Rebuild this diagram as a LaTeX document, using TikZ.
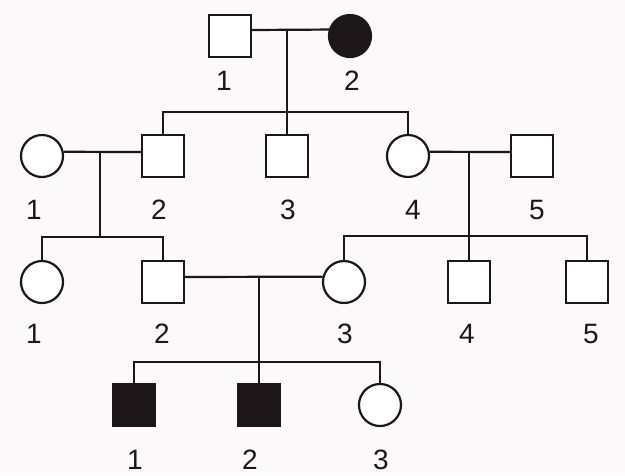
\documentclass[tikz,border=0pt]{standalone}
\usepackage{fontspec}
\setmainfont{Liberation Sans}
\definecolor{paper}{RGB}{252,249,250}
\definecolor{ink}{RGB}{28,22,24}
\begin{document}
\begin{tikzpicture}[x=1pt,y=-1pt,
  line width=2.2pt, draw=ink,
  male/.style={draw=ink,rectangle,minimum size=42pt,inner sep=0pt,fill=white},
  female/.style={draw=ink,circle,minimum size=42pt,inner sep=0pt,fill=white},
  affected/.style={fill=ink},
  num/.style={font=\fontsize{28}{28}\selectfont,text=ink,inner sep=0pt},
  link/.style={draw=ink,line width=2.2pt}]
\fill[paper] (0,0) rectangle (625,475);
\useasboundingbox (0,0) rectangle (625,475);

% generation I
\node[male] (I1) at (230,36) {};
\node[female,affected] (I2) at (350,36) {};
\coordinate (mI) at (287,30);
\draw[link] ([yshift=6pt]I1.east) -- (I2.163);

% generation II
\node[female] (II1) at (42,156) {};
\node[male] (II2) at (163,156) {};
\node[male] (II3) at (287,156) {};
\node[female] (II4) at (408,156) {};
\node[male] (II5) at (532,156) {};
\coordinate (mIIa) at (100,152);
\coordinate (mIIb) at (469,152);
\draw[link] (II1.11) -- ([yshift=4pt]II2.west);
\draw[link] (II4.11) -- ([yshift=4pt]II5.west);
\draw[link] (mI) -- (II3.north);
\draw[link] (II2.north) |- (287,112) -| (II4.north);

% generation III
\node[female] (III1) at (42,282) {};
\node[male] (III2) at (163,282) {};
\node[female] (III3) at (344,282) {};
\node[male] (III4) at (469,282) {};
\node[male] (III5) at (587,282) {};
\coordinate (mIII) at (259,277);
\draw[link] ([yshift=5pt]III2.east) -- (III3.166);
\draw[link] (mIIa) -- (100,237);
\draw[link] (III1.north) |- (100,237) -| (III2.north);
\draw[link] (mIIb) -- (III4.north);
\draw[link] (III3.north) |- (469,236) -| (III5.north);

% generation IV
\node[male,affected] (IV1) at (134,405) {};
\node[male,affected] (IV2) at (259,405) {};
\node[female] (IV3) at (380,405) {};
\draw[link] (mIII) -- (IV2.north);
\draw[link] (IV1.north) |- (259,362) -| (IV3.north);

% labels
\node[num] (lI1) at (224,81) {1};
\node[num] (lI2) at (352,81) {2};
\node[num] (lII1) at (34,210) {1};
\node[num] (lII2) at (159,210) {2};
\node[num] (lII3) at (288,210) {3};
\node[num] (lII4) at (413,210) {4};
\node[num] (lII5) at (537,210) {5};
\node[num] (lIII1) at (34,334) {1};
\node[num] (lIII2) at (162,334) {2};
\node[num] (lIII3) at (345,334) {3};
\node[num] (lIII4) at (467,334) {4};
\node[num] (lIII5) at (591,334) {5};
\node[num] (lIV1) at (135,460) {1};
\node[num] (lIV2) at (250,460) {2};
\node[num] (lIV3) at (381,460) {3};
\end{tikzpicture}
\end{document}
